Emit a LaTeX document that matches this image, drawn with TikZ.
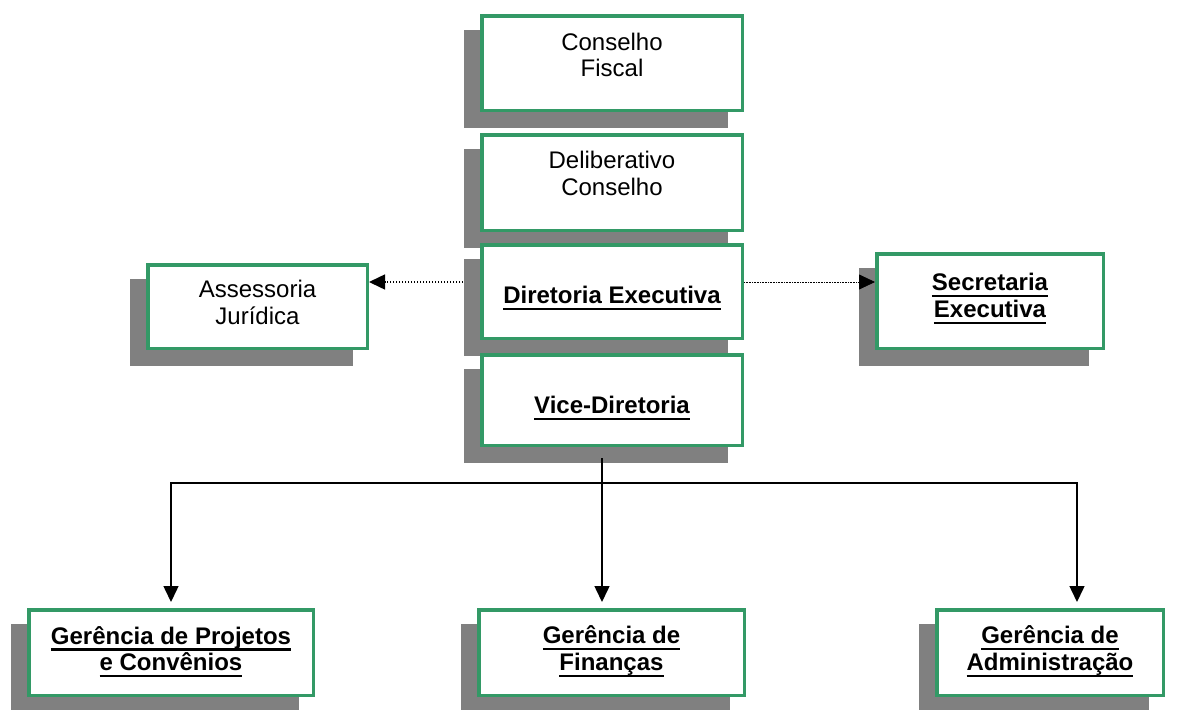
\documentclass[tikz,border=0pt]{standalone}
\usepackage{fontspec}
\setmainfont{Liberation Sans}
\usetikzlibrary{arrows.meta,shadows}

\definecolor{boxgreen}{HTML}{339966}
\definecolor{shade}{HTML}{808080}
% bold text with a thick underline
\newcommand{\ub}[1]{{\bfseries\setbox0\hbox{#1}\rlap{\smash{\rule[-6.5pt]{\wd0}{2.2pt}}}\box0}}

\begin{document}
\begin{tikzpicture}[
  x = 1pt, y = -1pt,
  box/.style 2 args = {draw=boxgreen, line width=3.5pt, fill=white, inner sep=0pt,
                       minimum width=#1, minimum height=#2,
                       drop shadow={shadow xshift=-16pt, shadow yshift=-16pt,
                                    fill=shade, draw=shade, line width=3.5pt, opacity=1}},
  txt/.style = {font=\fontsize{24}{26.5}\selectfont, align=center, inner sep=0pt},
  line/.style = {line width=1.5pt},
  arrow/.style = {line width=1.5pt, -{Triangle[length=16pt, width=15pt]}, shorten >=6pt},
  dotlink/.style = {line width=1.5pt, dash pattern=on 1.5pt off 1.5pt, -{Triangle[length=16pt, width=15pt]}},
  finelink/.style = {line width=0.8pt, dash pattern=on 0.8pt off 0.8pt, -{Triangle[length=16pt, width=15pt]}},
  ]
  \useasboundingbox (0,0) rectangle (1179,710);

  % central column
  \node[box={260.5pt}{94.5pt}] (fiscal) at (612,63) {};
  \node[box={260.5pt}{95.5pt}] (delib) at (612,182.5) {};
  \node[box={260.5pt}{93.5pt}] (diretoria) at (612,291.5) {};
  \node[box={260.5pt}{90.5pt}] (vice) at (612,400) {};

  % staff
  \node[box={219.5pt}{83.5pt}] (assessoria) at (257.5,306.5) {};
  \node[box={226.5pt}{94.5pt}] (secretaria) at (990,301) {};

  % gerencias
  \node[box={284.5pt}{85.5pt}] (projetos) at (171,652.5) {};
  \node[box={265.5pt}{85.5pt}] (financas) at (611.5,652.5) {};
  \node[box={226.5pt}{85.5pt}] (admin) at (1050,652.5) {};

  % texts
  \node[txt] (fiscal-t) at ([yshift=8pt]fiscal.center) {Conselho\\Fiscal};
  \node[txt] (delib-t) at ([yshift=9pt]delib.center) {Deliberativo\\Conselho};
  \node[txt] (diretoria-t) at ([yshift=-3.5pt]diretoria.center) {\ub{Diretoria Executiva}};
  \node[txt] (vice-t) at ([yshift=-5pt]vice.center) {\ub{Vice-Diretoria}};
  \node[txt] (assessoria-t) at ([yshift=4pt]assessoria.center) {Assessoria\\Jurídica};
  \node[txt] (secretaria-t) at ([yshift=5.5pt]secretaria.center) {\ub{Secretaria}\\\ub{Executiva}};
  \node[txt] (projetos-t) at ([yshift=4pt]projetos.center) {\ub{Gerência de Projetos}\\\ub{e Convênios}};
  \node[txt] (financas-t) at ([yshift=2pt]financas.center) {\ub{Gerência de}\\\ub{Finanças}};
  \node[txt] (admin-t) at ([yshift=2pt]admin.center) {\ub{Gerência de}\\\ub{Administração}};

  % connectors
  \coordinate (link) at (0,282);
  \coordinate (stem) at (602,458);
  \coordinate (split) at (602,483);
  \draw[dotlink] ([xshift=-17pt]diretoria.west |- link) -- (assessoria.east |- link);
  \draw[finelink] (diretoria.east |- link) -- (secretaria.west |- link);
  \draw[line] (stem) -- (split);
  \draw[arrow] (split) -| (projetos.north);
  \draw[arrow] (split) -- (split |- financas.north);
  \draw[arrow] (split) -| ([xshift=27pt]admin.north);
\end{tikzpicture}
\end{document}
